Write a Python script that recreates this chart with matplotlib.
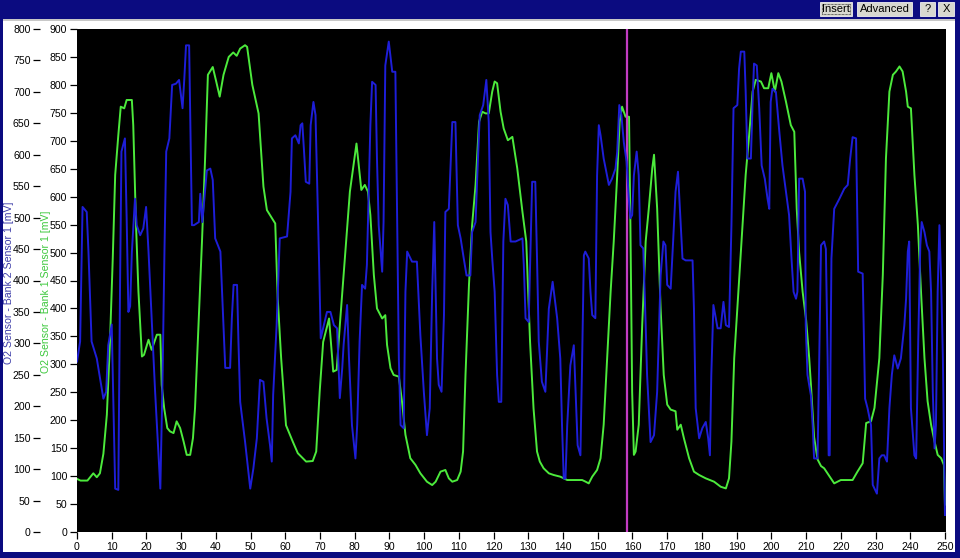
import matplotlib
matplotlib.use("Agg")
import matplotlib.pyplot as plt
from matplotlib.patches import Rectangle

# O2 Sensor - Bank 1 Sensor 1 [mV]  (green, inner axis 0..900)
bank1_x = [0, 1, 2, 3, 4.7, 5.7, 6.6, 7.6, 8.6, 9.5, 10.3, 11, 11.9, 12.6, 13.6, 14.3, 15.8, 16.2, 17, 17.7,
           18.7, 19.3, 20.6, 21.5, 23, 24, 24.4, 25.1, 26, 26.8, 27.8, 28.7, 29.7, 30.7, 31.6, 32.6, 33.4, 34,
           35, 36, 36.9, 37.7, 39.1, 40.1, 41.1, 42.2, 43.7, 45, 46, 47, 48.4, 49, 50.5, 52.3, 53.7, 54.7, 57.1,
           57.8, 58.8, 60.2, 62.2, 63.6, 66, 67.9, 68.9, 69.9, 70.9, 72.6, 73.8, 74.8, 75.7, 78.6, 80.5, 81.9,
           82.9, 83.8, 84.5, 85.5, 86.4, 87.9, 88.8, 89.3, 90.3, 91.2, 92.7, 93.6, 94.6, 96, 97.5, 98.9, 100.8,
           102.3, 103.3, 104.7, 106.1, 107.1, 108.1, 109.5, 110.5, 111.2, 111.9, 112.9, 113.8, 114.8, 115.8,
           116.7, 117.7, 118.6, 119.6, 120.3, 121, 122, 122.9, 124.1, 125.4, 126.8, 128.3, 129.4, 130.5, 131.5,
           132.5, 133.3, 134.4, 135.9, 137.3, 139.2, 141.2, 145.5, 146.5, 147.4, 148.4, 149.8, 150.8, 151.7,
           152.7, 153.7, 154.6, 155.6, 156.3, 157, 158, 159, 159.4, 159.9, 160.4, 160.9, 161.8, 162.8, 163.8,
           164.7, 165.7, 166.2, 167.1, 168.1, 169, 170, 171, 172.4, 172.9, 173.9, 174.8, 176.3, 177.7, 179.2,
           181.1, 183.5, 185.4, 186.9, 187.8, 188.5, 189.3, 190.2, 191.7, 192.6, 193.6, 194.6, 195.5, 197,
           197.9, 199.1, 200, 201, 202, 202.9, 204.2, 205.6, 206.6, 207.3, 208, 209, 210, 210.9, 211.4, 212.3,
           213.3, 214.3, 215.2, 216.5, 218.1, 220, 223.4, 224.8, 226.3, 227.3, 228.7, 229.7, 231.1, 232.1,
           233, 234, 235, 235.9, 236.9, 237.8, 238.8, 239.3, 240.2, 241.2, 242.2, 243.1, 244.1, 245, 246, 247,
           247.9, 248.9, 249.7, 250]
bank1_mv = [95, 92, 92, 92, 105, 98, 105, 140, 210, 340, 490, 639, 710, 761, 758, 773, 773, 728, 549, 430,
            314, 317, 344, 326, 353, 353, 263, 222, 186, 180, 177, 198, 186, 162, 138, 138, 168, 222,
            371, 520, 669, 818, 832, 806, 779, 818, 850, 858, 852, 865, 871, 868, 800, 749, 618, 576, 552,
            420, 311, 191, 161, 141, 126, 127, 144, 251, 340, 382, 287, 290, 370, 609, 695, 612,
            621, 609, 567, 460, 400, 382, 388, 335, 293, 281, 278, 234, 174, 132, 120, 105, 90,
            84, 90, 108, 111, 96, 90, 93, 108, 144, 281, 442, 549, 621, 734,
            752, 749, 749, 788, 806, 803, 752, 722, 701, 707, 651, 573, 520, 340, 221,
            144, 126, 114, 105, 102, 99, 93, 93, 90, 87, 99, 111, 132, 192,
            311, 430, 520, 639, 734, 761, 743, 743, 549, 251, 138, 144, 192, 371, 520,
            579, 651, 675, 579, 400, 281, 228, 219, 216, 183, 192, 168, 132, 108, 102,
            96, 90, 81, 78, 96, 162, 311, 400, 549, 639, 710, 788, 809, 806,
            794, 794, 821, 788, 821, 806, 770, 728, 716, 579, 500, 430, 380, 311, 263, 170,
            130, 118, 114, 102, 87, 93, 93, 108, 123, 195, 198, 222, 311, 460,
            668, 788, 818, 824, 833, 824, 788, 761, 758, 639, 549, 430, 311, 234, 192, 162,
            138, 132, 120, 49]

# O2 Sensor - Bank 2 Sensor 1 [mV]  (blue, outer axis 0..800)
bank2_x = [0, 0.9, 1.6, 2.8, 3.3, 4.2, 5.7, 7.6, 8.4, 9.0, 10, 10.5, 11, 11.9, 12.4, 12.8, 13.8, 14.3, 14.8,
           15.3, 15.8, 16.7, 17.2, 18.2, 19.1, 19.9, 20.6, 21.6, 22.5, 23.5, 24, 24.6, 25.2, 25.7, 26.6, 27.4,
           28.5, 29.4, 30.4, 30.9, 31.4, 32.3, 33.1, 33.7, 35.1, 35.5, 36.1, 37.4, 38.4, 39.1, 39.8, 41.3,
           42.2, 42.7, 44.1, 44.6, 45.1, 46.1, 46.5, 47, 48.4, 49.9, 50.8, 51.8, 52.7, 53.7, 54.6, 55.6,
           56.1, 56.5, 57.5, 58.4, 60.5, 61.5, 61.9, 62.9, 63.9, 64.4, 64.9, 65.4, 65.9, 66.9, 67.3, 68.1,
           68.7, 69.7, 70.2, 71.1, 72, 73, 74, 74.9, 75.7, 76.4, 76.8, 77.8, 78.3, 79.2, 80.2, 80.7, 81.4,
           82.1, 83, 83.5, 84.5, 85, 86, 86.4, 86.9, 87.9, 88.3, 88.8, 89.8, 90.8, 91.7, 92.7, 93.2, 94.1,
           94.6, 95.1, 96.5, 97.9, 98.9, 99.9, 100.8, 101.6, 102.3, 102.9, 103.7, 104.2, 105, 105.7, 106.1,
           107.1, 107.6, 108.1, 109, 109.7, 110.5, 111.4, 112.2, 113.3, 113.8, 114.8, 115.3, 116, 117, 117.9,
           118.6, 119.1, 119.6, 120.3, 121, 121.5, 122.2, 122.8, 123.4, 124.1, 124.9, 126.3, 128.3, 128.7,
           129.2, 130.1, 131.1, 132, 132.5, 133, 133.9, 134.9, 135.9, 137, 138.3, 139.2, 139.7, 140.2, 140.7,
           141.2, 142.1, 143.1, 143.6, 144.2, 145, 145.5, 146, 146.4, 147.4, 147.9, 148.4, 149.3, 149.8,
           150.3, 150.8, 151.7, 153.2, 154.1, 155.1, 155.6, 156.2, 156.8, 157.5, 158.3, 159, 159.4, 159.9,
           160.4, 161.2, 161.8, 162.3, 163.1, 163.8, 164.2, 165.2, 166.2, 167.1, 168.1, 168.9, 169.5, 170,
           171, 171.7, 172.4, 173.1, 173.9, 174.4, 175.3, 177.3, 177.7, 178.2, 179.2, 180.1, 181.1, 181.8,
           182.3, 182.7, 183.3, 184, 184.5, 185.4, 186.2, 186.9, 187.8, 188.5, 189.1, 190.2, 190.7, 191.2,
           192.2, 192.6, 193.1, 194.1, 194.6, 195, 195.8, 196.5, 197.2, 198.1, 198.9, 199.4, 199.8, 200.3,
           201.3, 202.3, 203.2, 204.2, 205.1, 205.8, 206.4, 207.1, 207.5, 208, 209, 209.7, 209.9, 210.4,
           211.4, 211.9, 212.3, 213.3, 213.8, 214.3, 215.2, 215.7, 216.2, 216.5, 216.8, 217.3, 218.1, 219.6,
           221, 222, 222.7, 223.4, 224.4, 225, 226.3, 227, 227.7, 228.7, 229.2, 230.4, 231.1, 231.8, 232.5,
           233.3, 234, 234.7, 235.4, 236.4, 237.3, 238.3, 238.8, 239.3, 239.7, 240.2, 241.2, 241.7, 242.3,
           242.9, 243.3, 244.1, 244.8, 245.5, 246, 246.5, 247, 247.4, 247.9, 248.4, 248.9, 249.4, 250]
bank2_mv = [271, 303, 517, 509, 446, 303, 276, 212, 223, 297, 330, 200, 69, 67, 393, 605, 626, 500, 350,
            359, 445, 530, 488, 472, 483, 517, 446, 329, 223, 122, 69, 230, 450, 605, 626, 711,
            713, 719, 674, 720, 774, 774, 488, 488, 493, 538, 493, 575, 578, 560, 467, 446,
            329, 261, 261, 340, 393, 393, 303, 207, 144, 69, 101, 149, 242, 239, 181, 138,
            112, 218, 329, 467, 470, 541, 626, 631, 618, 647, 650, 605, 557, 554, 647, 684,
            663, 435, 308, 329, 350, 350, 329, 324, 213, 261, 298, 361, 282, 170, 117, 170, 303,
            393, 387, 425, 647, 716, 711, 594, 488, 414, 493, 742, 780, 732, 732, 276, 170, 165,
            382, 446, 430, 430, 313, 223, 154, 197, 382, 493, 276, 234, 223, 345, 509,
            514, 583, 652, 652, 488, 467, 435, 408, 408, 477, 493, 567, 663, 679, 719,
            652, 477, 435, 382, 250, 207, 207, 462, 530, 520, 462, 462, 467, 424,
            340, 334, 557, 557, 435, 303, 239, 223, 355, 398, 340, 276, 170, 85, 85,
            170, 265, 297, 223, 138, 122, 276, 440, 446, 435, 382, 345, 340, 567,
            647, 631, 594, 552, 562, 578, 605, 679, 663, 620, 589, 525, 499, 504,
            567, 605, 567, 456, 451, 329, 250, 143, 154, 223, 408, 462, 456, 393,
            387, 462, 541, 573, 488, 435, 432, 432, 355, 197, 149, 165, 175, 149,
            122, 250, 361, 340, 324, 324, 366, 329, 326, 488, 674, 679, 737, 764,
            764, 700, 594, 594, 684, 745, 742, 674, 583, 562, 530, 514, 684, 705,
            700, 636, 583, 541, 504, 435, 382, 371, 382, 562, 562, 541, 329, 250,
            217, 170, 117, 117, 280, 456, 462, 450, 276, 122, 122, 435, 514, 530,
            546, 552, 594, 628, 626, 414, 411, 212, 197, 170, 75, 61, 117, 122, 122,
            112, 197, 250, 281, 260, 276, 329, 371, 446, 462, 197, 122, 117, 303,
            456, 493, 477, 456, 446, 382, 223, 133, 170, 382, 488, 403, 276, 27]

cursor_x = 158.3
x_ticks = list(range(0, 251, 10))
bank1_ticks = list(range(0, 901, 50))
bank2_ticks = list(range(0, 801, 50))

W, H = 960, 558
navy = "#0b0b80"
fs = 7.6
plt.rcParams["font.family"] = ["Liberation Sans", "DejaVu Sans"]


def px_rect(x0, y0, x1, y1):
    # pixel box (top-left origin) -> figure fraction
    return (x0 / W, 1 - y1 / H), (x1 - x0) / W, (y1 - y0) / H


fig = plt.figure(figsize=(W / 100, H / 100), dpi=100)
fig.patch.set_facecolor("white")

# window frame
for box, col in [((0, 0, 960, 19), navy), ((0, 0, 3, 558), navy), ((955, 0, 960, 558), navy),
                 ((0, 552, 960, 558), navy), ((3, 19, 955, 21), "#c8c8c8")]:
    xy, w, h = px_rect(*box)
    fig.patches.append(Rectangle(xy, w, h, transform=fig.transFigure, facecolor=col,
                                 edgecolor="none", zorder=0))

# title bar buttons
for (x0, x1), txt in [((820, 852), "Insert"), ((857, 912), "Advanced"), ((920, 935), "?"), ((938, 954), "X")]:
    xy, w, h = px_rect(x0, 2, x1, 16)
    fig.patches.append(Rectangle(xy, w, h, transform=fig.transFigure, facecolor="#d8d8d0",
                                 edgecolor="#f0f0f0", lw=0.6, zorder=1))
    fig.text((x0 + x1) / 2 / W, 1 - 9.5 / H, txt, ha="center", va="center", fontsize=8,
             color="black", zorder=2)
xy, w, h = px_rect(822, 4, 850, 14)
fig.patches.append(Rectangle(xy, w, h, transform=fig.transFigure, facecolor="none",
                             edgecolor="black", lw=0.5, ls=(0, (1, 1)), zorder=3))

# plot area
ax = fig.add_axes([77 / W, 26 / H, 869 / W, 503 / H])
ax.set_facecolor("black")
ax.plot(bank1_x, bank1_mv, color="#4cea3c", lw=1.4, zorder=2)
ax.axvline(cursor_x, color="#c23cc2", lw=1.6, zorder=4)
ax.set_xlim(0, 250.3)
ax.set_ylim(0, 900)
ax.set_xticks(x_ticks)
ax.set_yticks(bank1_ticks)
ax.tick_params(axis="both", direction="out", length=5, width=0.9, color="black",
               labelsize=fs, pad=2)
for s in ax.spines.values():
    s.set_visible(False)

ax2 = ax.twinx()
ax2.plot(bank2_x, bank2_mv, color="#1e1ed8", lw=1.4, zorder=3)
ax2.set_ylim(0, 800)
ax2.set_yticks(bank2_ticks)
ax2.yaxis.set_ticks_position("left")
ax2.spines["left"].set_position(("outward", 26.5))
for s in ax2.spines.values():
    s.set_visible(False)
ax2.tick_params(axis="y", direction="out", length=5, width=0.9, color="black",
                labelsize=fs, pad=2)

fig.text(9 / W, 1 - 283 / H, "O2 Sensor - Bank 2 Sensor 1 [mV]", rotation=90, ha="center",
         va="center", fontsize=fs, color="#3c3ca8")
fig.text(46 / W, 1 - 292 / H, "O2 Sensor - Bank 1 Sensor 1 [mV]", rotation=90, ha="center",
         va="center", fontsize=fs, color="#3cc83c")

fig.savefig("out.png", dpi=100, facecolor=fig.get_facecolor())
